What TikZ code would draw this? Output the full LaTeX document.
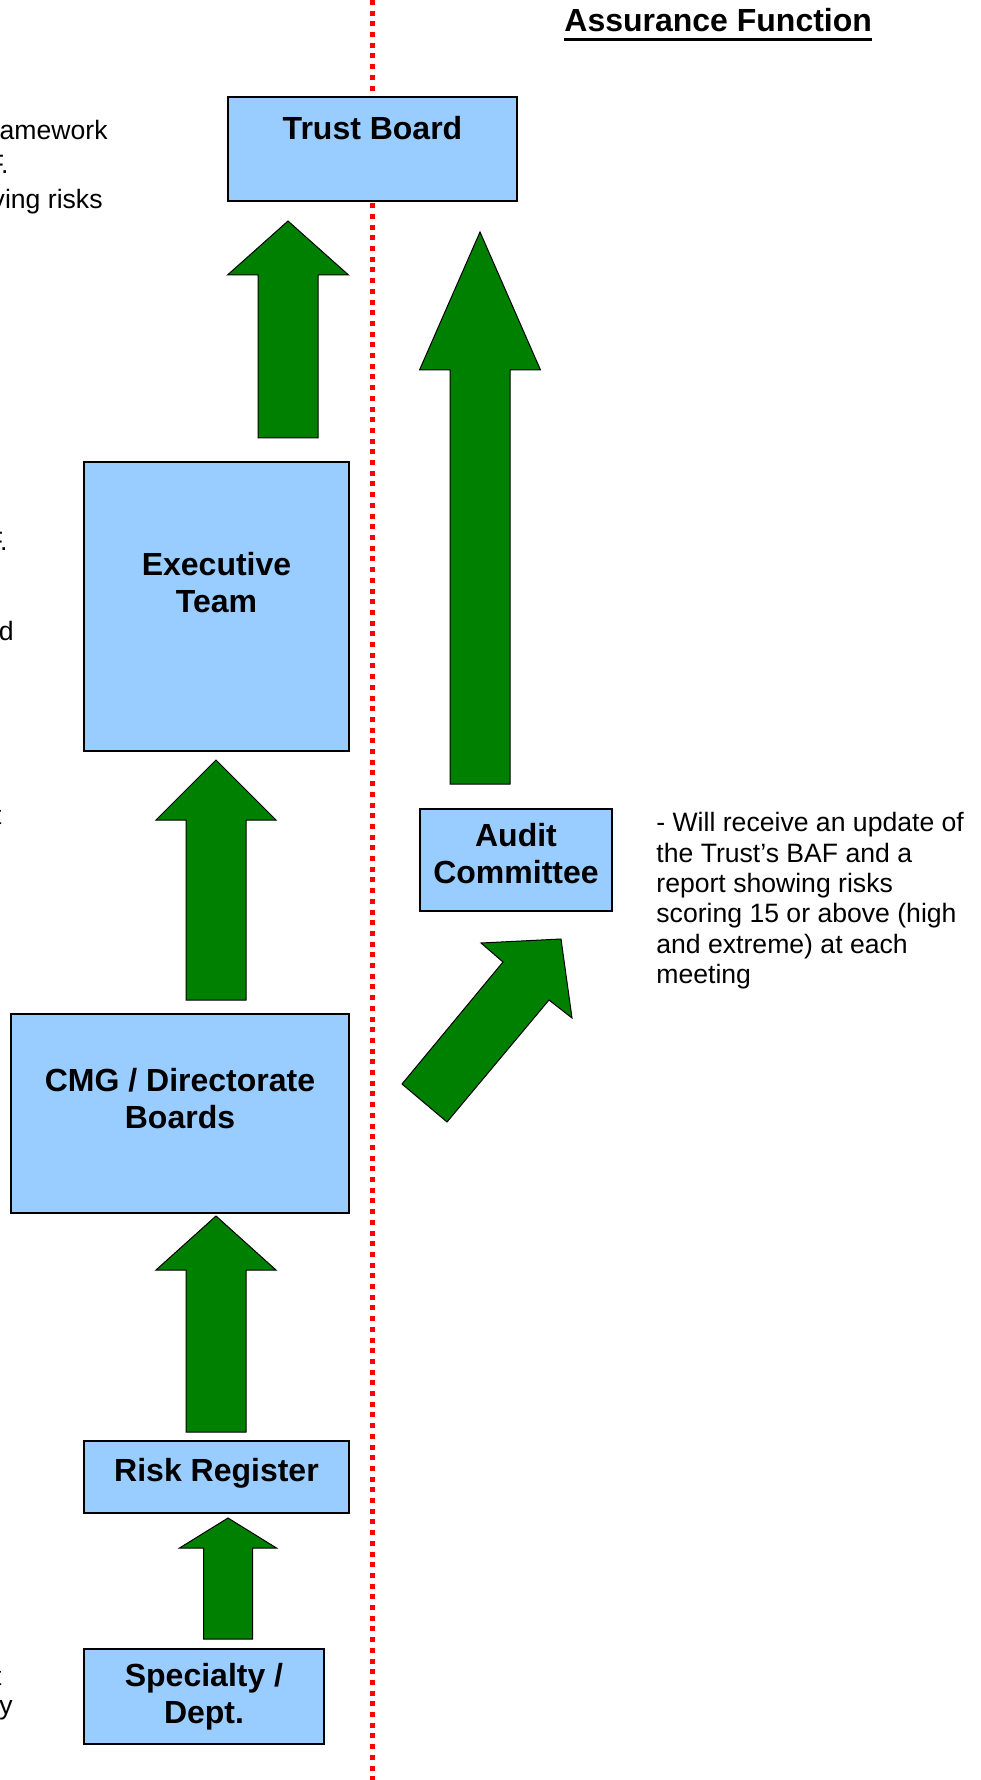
\documentclass[tikz,border=0pt]{standalone}
\usepackage{fontspec}
\setmainfont{Liberation Sans}
\usetikzlibrary{fit,calc}
\definecolor{boxblue}{HTML}{99CCFF}
\definecolor{arrowgreen}{HTML}{008000}
\tikzstyle{box}=[draw,fill=boxblue,line width=1pt,inner sep=0pt]
\tikzstyle{boxlabel}=[font=\fontsize{16}{18.5}\selectfont\bfseries,align=center]
\tikzstyle{note}=[font=\fontsize{13.3}{15.2}\selectfont,align=left,inner sep=0pt]
\tikzstyle{cut}=[font=\fontsize{13.3}{15.2}\selectfont,inner sep=0pt,anchor=base east]
\tikzstyle{blockarrow}=[draw,fill=arrowgreen,line width=0.5pt,line join=miter]
\tikzstyle{divider}=[red,line width=2.5pt,dash pattern=on 2.5pt off 2.85pt]

% block arrow pointing up: centre x, bottom, head base, tip, half shaft, half head
\newcommand{\uparr}[6]{%
  \draw[blockarrow] (#1-#5,#2) -- (#1-#5,#3) -- (#1-#6,#3) -- (#1,#4)
    -- (#1+#6,#3) -- (#1+#5,#3) -- (#1+#5,#2) -- cycle;}

\begin{document}
\begin{tikzpicture}[x=0.5pt,y=-0.5pt]
\useasboundingbox (0,0) rectangle (980,1780);
\clip (0,0) rectangle (980,1780);

\draw[divider] (372,0) -- (372,1780);

% text cut off at the left edge
\node[cut] (l1) at (108,140) {amework};
\node[cut] (l2) at (9,174) {F.};
\node[cut] (l3) at (103,209) {ving risks};
\node[cut] (l4) at (8,551) {F.};
\node[cut] (l5) at (14,640) {d};
\node[cut] (l6) at (2,824) {t};
\node[cut] (l7) at (2,1685) {t};
\node[cut] (l8) at (13,1714) {y};

% boxes
\node[box,fit={(228,97) (517,201)}] (trust) {};
\node[box,fit={(84,462) (349,751)}] (exec) {};
\node[box,fit={(11,1014) (349,1213)}] (cmg) {};
\node[box,fit={(84,1441) (349,1513)}] (register) {};
\node[box,fit={(84,1649) (324,1744)}] (specialty) {};
\node[box,fit={(420,809) (612,911)}] (audit) {};

\node[boxlabel] (trustlabel) at (372.5,128) {Trust Board};
\node[boxlabel] (execlabel) at (216.5,583) {Executive\\Team};
\node[boxlabel] (cmglabel) at (180,1098.5) {CMG / Directorate\\Boards};
\node[boxlabel] (registerlabel) at (216.5,1473) {Risk Register};
\node[boxlabel] (specialtylabel) at (204,1697) {Specialty /\\Dept.};
\node[boxlabel] (auditlabel) at (516,853.5) {Audit\\Committee};

% arrows
\uparr{288}{438}{275}{221}{30}{60.5}
\uparr{216}{1000}{820}{760}{30}{60}
\uparr{216}{1432}{1270}{1216}{30}{60}
\uparr{228}{1639}{1548}{1518}{24.5}{48.5}
\uparr{480}{784}{370}{232}{30}{60.5}
\draw[blockarrow] (402,1084) -- (503,962) -- (481,943) -- (561,939)
  -- (572,1018) -- (549,1000) -- (447,1122) -- cycle;

% assurance side
\node[font=\fontsize{16}{18.5}\selectfont\bfseries,inner sep=0pt,anchor=base west] (title) at (564,32) {Assurance Function};
\draw[line width=1.25pt] ($(title.base west)+(0,7.5)$) -- ($(title.base east)+(0,7.5)$);

\node[note,anchor=north west] (auditnote) at (656,812) {- Will receive an update of\\the Trust’s BAF and a\\report showing risks\\scoring 15 or above (high\\and extreme) at each\\meeting};
\end{tikzpicture}
\end{document}
